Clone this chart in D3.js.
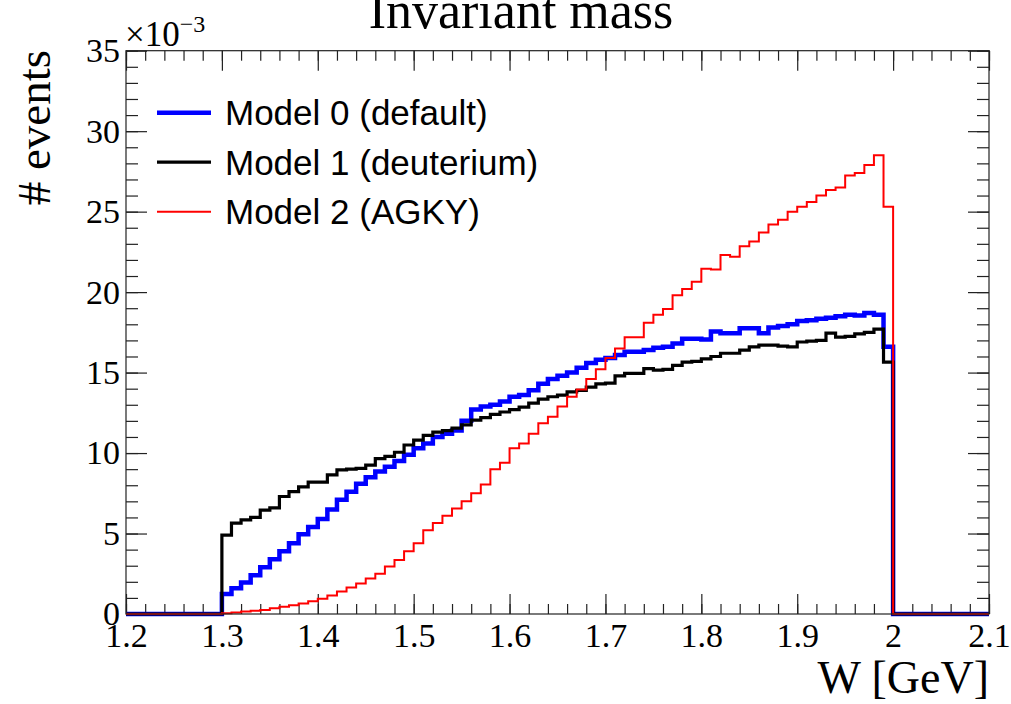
<!DOCTYPE html>
<html>
<head>
<meta charset="utf-8">
<script src="https://cdn.jsdelivr.net/npm/d3@7"></script>
<style>
  body { margin: 0; background: #fff; }
  svg { display: block; }
</style>
</head>
<body>
<svg id="chart" width="1011" height="704"></svg>
<script>
// histogram binning: 90 bins of 0.01 GeV from 1.2 to 2.1
const xMin = 1.2;
const xMax = 2.1;
const binWidth = 0.01;

// bin contents in units of 1e-3
const model0 = [
  0, 0, 0, 0, 0, 0, 0, 0, 0, 0,
  1.25, 1.6, 1.95, 2.4, 2.9, 3.4, 3.9, 4.4, 4.95, 5.4,
  5.9, 6.5, 7.1, 7.6, 8.1, 8.5, 8.85, 9.15, 9.5, 9.9,
  10.3, 10.6, 11.0, 11.2, 11.4, 12.0, 12.7, 12.9, 13.0, 13.2,
  13.5, 13.6, 13.9, 14.3, 14.6, 14.8, 15.0, 15.3, 15.6, 15.8,
  15.9, 16.1, 16.3, 16.3, 16.4, 16.55, 16.6, 16.8, 17.1, 17.1,
  17.05, 17.55, 17.45, 17.45, 17.75, 17.75, 17.45, 17.8, 17.9, 18.0,
  18.2, 18.25, 18.35, 18.4, 18.5, 18.6, 18.55, 18.7, 18.6, 16.6,
  0, 0, 0, 0, 0, 0, 0, 0, 0, 0
];
const model1 = [
  0, 0, 0, 0, 0, 0, 0, 0, 0, 0,
  4.9, 5.65, 5.85, 6.0, 6.45, 6.6, 7.3, 7.6, 7.9, 8.2,
  8.2, 8.65, 8.95, 9.0, 9.05, 9.25, 9.65, 9.8, 10.05, 10.5,
  10.8, 11.1, 11.3, 11.4, 11.55, 11.75, 12.05, 12.2, 12.4, 12.55,
  12.7, 12.85, 13.1, 13.35, 13.5, 13.6, 13.8, 13.9, 14.1, 14.3,
  14.35, 14.8, 14.95, 14.95, 15.25, 15.15, 15.2, 15.45, 15.65, 15.7,
  15.85, 16.0, 16.2, 16.2, 16.4, 16.6, 16.7, 16.7, 16.65, 16.6,
  16.9, 16.95, 17.0, 17.45, 17.2, 17.25, 17.4, 17.5, 17.7, 15.65,
  0, 0, 0, 0, 0, 0, 0, 0, 0, 0
];
const model2 = [
  0, 0, 0, 0, 0, 0, 0, 0, 0, 0,
  0.05, 0.1, 0.15, 0.2, 0.25, 0.35, 0.45, 0.55, 0.65, 0.8,
  0.95, 1.15, 1.4, 1.65, 1.9, 2.2, 2.5, 2.95, 3.35, 3.9,
  4.4, 5.2, 5.65, 6.1, 6.55, 7.0, 7.5, 8.05, 9.0, 9.4,
  10.3, 10.6, 11.2, 11.85, 12.25, 12.9, 13.5, 13.95, 14.6, 15.2,
  15.9, 16.5, 17.2, 17.2, 18.1, 18.6, 18.95, 19.8, 20.2, 20.65,
  21.45, 21.4, 22.3, 22.2, 22.85, 23.15, 23.7, 24.2, 24.5, 25.0,
  25.3, 25.6, 26.0, 26.35, 26.5, 27.25, 27.4, 27.9, 28.5, 25.3,
  0, 0, 0, 0, 0, 0, 0, 0, 0, 0
];

const seriesNames = ["Model 0 (default)", "Model 1 (deuterium)", "Model 2 (AGKY)"];
const seriesColors = ["#0000ff", "#000000", "#ff0000"];
const seriesWidths = [4.5, 3.2, 2];

const xTicks = [1.2, 1.3, 1.4, 1.5, 1.6, 1.7, 1.8, 1.9, 2.0, 2.1];
const yTicks = [0, 5, 10, 15, 20, 25, 30, 35];

const svg = d3.select("#chart");
const margin = { top: 50.7, right: 22, bottom: 90, left: 126 };
const width = 1011 - margin.left - margin.right;
const height = 704 - margin.top - margin.bottom;

const serif = "'Liberation Serif', 'Times New Roman', serif";
const sans = "'Liberation Sans', Arial, sans-serif";

const x = d3.scaleLinear().domain([xMin, xMax]).range([0, width]);
const y = d3.scaleLinear().domain([0, 35]).range([height, 0]);

const g = svg.append("g").attr("transform", `translate(${margin.left},${margin.top})`);

// minor tick positions
const xMinor = d3.range(0, 46).map(i => +(xMin + i * 0.02).toFixed(3));
const yMinor = d3.range(0, 36);

function styleAxis(sel) {
  sel.select(".domain").remove();
  sel.selectAll("line").attr("stroke", "#222").attr("stroke-width", 1.2);
}

// bottom
g.append("g").attr("transform", `translate(0,${height})`)
  .call(d3.axisBottom(x).tickValues(xMinor).tickSize(-10).tickFormat(""))
  .call(styleAxis);
g.append("g").attr("transform", `translate(0,${height})`)
  .call(d3.axisBottom(x).tickValues(xTicks).tickSize(-20).tickPadding(9)
    .tickFormat(d => d === 2 ? "2" : d3.format(".1f")(d)))
  .call(styleAxis)
  .call(a => a.selectAll("text").attr("font-family", serif).attr("font-size", 34).attr("fill", "#000"));
// top
g.append("g")
  .call(d3.axisTop(x).tickValues(xMinor).tickSize(-10).tickFormat(""))
  .call(styleAxis);
g.append("g")
  .call(d3.axisTop(x).tickValues(xTicks).tickSize(-20).tickFormat(""))
  .call(styleAxis);
// left
g.append("g")
  .call(d3.axisLeft(y).tickValues(yMinor).tickSize(-12).tickFormat(""))
  .call(styleAxis);
g.append("g")
  .call(d3.axisLeft(y).tickValues(yTicks).tickSize(-21).tickPadding(6).tickFormat(d3.format("d")))
  .call(styleAxis)
  .call(a => a.selectAll("text").attr("font-family", serif).attr("font-size", 34).attr("fill", "#000"));
// right
g.append("g").attr("transform", `translate(${width},0)`)
  .call(d3.axisRight(y).tickValues(yMinor).tickSize(-12).tickFormat(""))
  .call(styleAxis);
g.append("g").attr("transform", `translate(${width},0)`)
  .call(d3.axisRight(y).tickValues(yTicks).tickSize(-21).tickFormat(""))
  .call(styleAxis);

// histograms drawn as steps
const step = d3.line()
  .x(d => x(d[0]))
  .y(d => y(d[1]))
  .curve(d3.curveStepAfter);

[model0, model1, model2].forEach((vals, si) => {
  const pts = vals.map((v, i) => [xMin + i * binWidth, v]);
  pts.push([xMax, vals[vals.length - 1]]);
  g.append("path")
    .datum(pts)
    .attr("fill", "none")
    .attr("stroke", seriesColors[si])
    .attr("stroke-width", seriesWidths[si])
    .attr("stroke-linejoin", "miter")
    .attr("d", step);
});

// frame
g.append("rect")
  .attr("width", width).attr("height", height)
  .attr("fill", "none").attr("stroke", "#222").attr("stroke-width", 1.2);

// legend
const legend = g.append("g").attr("transform", "translate(31,62)");
seriesNames.forEach((name, i) => {
  const row = legend.append("g").attr("transform", `translate(0,${i * 49.5})`);
  row.append("line")
    .attr("x1", 0).attr("x2", 54)
    .attr("stroke", seriesColors[i])
    .attr("stroke-width", seriesWidths[i]);
  row.append("text")
    .attr("x", 68).attr("y", 0).attr("dy", "0.36em")
    .attr("font-family", sans).attr("font-size", 35)
    .text(name);
});

// exponent label
const expo = svg.append("text")
  .attr("x", margin.left - 1).attr("y", 46)
  .attr("font-family", serif).attr("font-size", 35);
expo.append("tspan").text("×10");
expo.append("tspan").attr("dy", -14).attr("font-size", 24).text("−3");

// title
svg.append("text")
  .attr("x", 521).attr("y", 28)
  .attr("text-anchor", "middle")
  .attr("font-family", serif).attr("font-size", 52)
  .text("Invariant mass");

// axis titles
svg.append("text")
  .attr("transform", "translate(50,50) rotate(-90)")
  .attr("text-anchor", "end")
  .attr("font-family", serif).attr("font-size", 47)
  .text("# events");

svg.append("text")
  .attr("x", 989).attr("y", 693)
  .attr("text-anchor", "end")
  .attr("font-family", serif).attr("font-size", 46)
  .text("W [GeV]");
</script>
</body>
</html>
